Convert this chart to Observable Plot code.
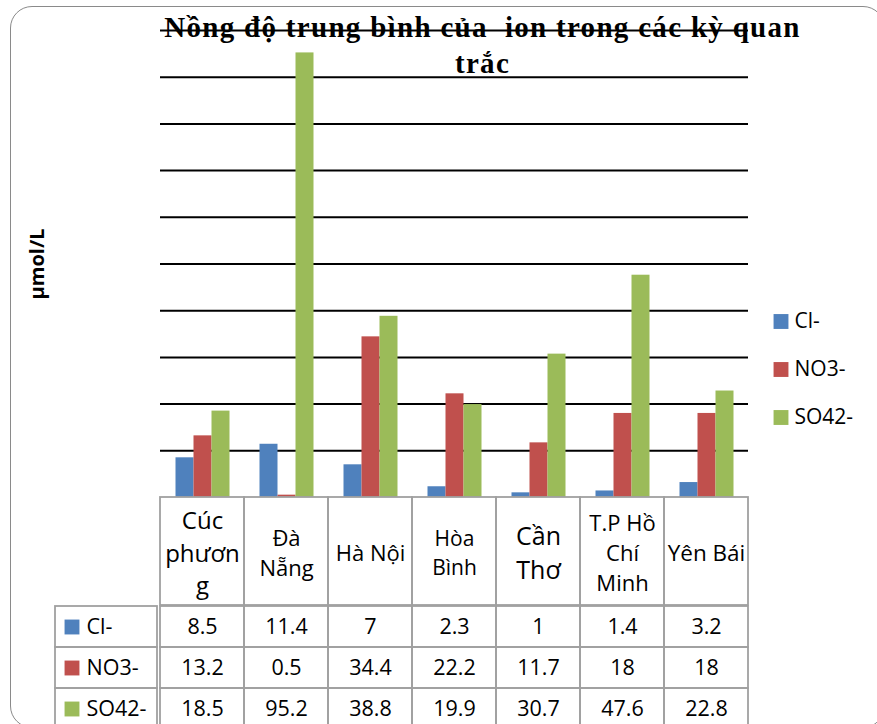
<!DOCTYPE html>
<html>
<head>
<meta charset="utf-8">
<script src="https://cdn.jsdelivr.net/npm/d3@7"></script>
<script src="https://cdn.jsdelivr.net/npm/@observablehq/plot@0.6"></script>
<style>
html, body { margin: 0; padding: 0; background: #fff; color: #000; }
#wrap { position: relative; width: 877px; height: 724px; overflow: hidden; font-family: "Open Sans", sans-serif; }
#wrap > * { position: absolute; }
#frame { left: 9.5px; top: 6px; width: 875px; height: 722px; border: 1.5px solid #8a8a8a; border-radius: 22px; box-sizing: border-box; }
</style>
</head>
<body>
<div id="wrap"><div id="frame"></div></div>
<script>
// ---- data ----
const categories = ["Cúc phương", "Đà Nẵng", "Hà Nội", "Hòa Bình", "Cần Thơ", "T.P Hồ Chí Minh", "Yên Bái"];
const categoryLines = [["Cúc", "phươn", "g"], ["Đà", "Nẵng"], ["Hà Nội"], ["Hòa", "Bình"], ["Cần", "Thơ"], ["T.P Hồ", "Chí", "Minh"], ["Yên Bái"]];
const series = ["Cl-", "NO3-", "SO42-"];
const clValues = [8.5, 11.4, 7, 2.3, 1, 1.4, 3.2];
const no3Values = [13.2, 0.5, 34.4, 22.2, 11.7, 18, 18];
const so4Values = [18.5, 95.2, 38.8, 19.9, 30.7, 47.6, 22.8];
const yTicks = [10, 20, 30, 40, 50, 60, 70, 80, 90, 100];
const titleLines = ["Nồng độ trung bình của  ion trong các kỳ quan", "trắc"];
const yLabel = "µmol/L";

// ---- styles ----
const colors = ["#4F81BD", "#C0504D", "#9BBB59"];
const headerFontSize = {"Cúc phương": 24, "Đà Nẵng": 22, "Hà Nội": 22, "Hòa Bình": 21, "Cần Thơ": 25, "T.P Hồ Chí Minh": 22, "Yên Bái": 22.5};
const FONT = "Open Sans";
const BORDER = "#a0a0a0";

const seriesValues = [clValues, no3Values, so4Values];
const data = categories.flatMap((c, i) => series.map((s, j) => ({category: c, series: s, value: seriesValues[j][i]})));
const colorScale = {domain: series, range: colors};
const transparent = {background: "transparent", overflow: "visible"};
const wrap = document.getElementById("wrap");
function place(el, left, top) { el.style.left = left + "px"; el.style.top = top + "px"; wrap.appendChild(el); }

// ---- chart ----
const chart = Plot.plot({
  width: 877, height: 497,
  marginLeft: 157.5, marginRight: 127, marginTop: 30, marginBottom: 0,
  style: transparent,
  fx: {domain: categories, padding: 0, axis: null},
  x: {domain: series, paddingInner: 0, paddingOuter: 0.76, axis: null},
  y: {domain: [0, 100], axis: null},
  color: colorScale,
  marks: [
    Plot.ruleY(yTicks, {stroke: "black", strokeWidth: 2}),
    Plot.barY(data, {fx: "category", x: "series", y: "value", fill: "series"}),
    Plot.text([titleLines.join("\n")], {
      fx: () => categories[3], text: d => d, frameAnchor: "top", lineAnchor: "top",
      textAnchor: "middle", dx: 28, dy: -19, fontFamily: "Liberation Serif", fontWeight: "bold",
      fontSize: 29, lineHeight: 1.25, fill: "black"
    }),
    Plot.text([yLabel], {
      fx: () => categories[0], text: d => d, frameAnchor: "left", textAnchor: "middle",
      dx: -122.5, rotate: -90, fontFamily: FONT, fontWeight: "bold", fontSize: 20, fill: "black"
    })
  ]
});
// widen the title's letter spacing to match the reference's wide serif
d3.select(chart).selectAll("text")
  .filter(function() { return this.textContent.includes(titleLines[1]); })
  .style("letter-spacing", "1.3px");
place(chart, 0, 0);

// ---- legend ----
const legend = Plot.plot({
  width: 110, height: 145, margin: 0,
  style: transparent,
  y: {type: "band", domain: series, padding: 0, axis: null},
  color: colorScale,
  marks: [
    Plot.dot(series, {y: d => d, fill: d => d, symbol: "square", r: 8.4, frameAnchor: "left", dx: 22.5, stroke: null}),
    Plot.text(series, {y: d => d, text: d => d, frameAnchor: "left", textAnchor: "start", dx: 36, fontFamily: FONT, fontSize: 21, fill: "black"})
  ]
});
place(legend, 758, 296);

// ---- table header row ----
const header = Plot.plot({
  width: 877, height: 109,
  marginLeft: 157.5, marginRight: 127, marginTop: 1, marginBottom: 0,
  style: transparent,
  x: {type: "band", domain: categories, padding: 0, axis: null},
  marks: [
    Plot.cell(categories, {x: d => d, fill: "none", stroke: BORDER, strokeWidth: 1.8}),
    Plot.text(categories, {
      x: d => d, text: d => categoryLines[categories.indexOf(d)].join("\n"),
      fontSize: d => headerFontSize[d], lineHeight: 1.35, fontFamily: FONT, fill: "black"
    })
  ]
});
place(header, 0, 496);

// ---- table values ----
const table = Plot.plot({
  width: 877, height: 125.5,
  marginLeft: 157.5, marginRight: 127, marginTop: 1, marginBottom: 0,
  style: transparent,
  x: {type: "band", domain: categories, padding: 0, axis: null},
  y: {type: "band", domain: series, padding: 0, axis: null},
  marks: [
    Plot.cell(data, {x: "category", y: "series", fill: "none", stroke: BORDER, strokeWidth: 1.8}),
    Plot.text(data, {x: "category", y: "series", text: d => String(d.value), fontFamily: FONT, fontSize: 21.5, fill: "black"})
  ]
});
place(table, 0, 604);

// ---- table key column ----
const keys = Plot.plot({
  width: 104.5, height: 125.5,
  marginLeft: 1, marginRight: 1, marginTop: 1, marginBottom: 0,
  style: transparent,
  x: {type: "band", domain: ["key"], padding: 0, axis: null},
  y: {type: "band", domain: series, padding: 0, axis: null},
  color: colorScale,
  marks: [
    Plot.cell(series, {x: () => "key", y: d => d, fill: "none", stroke: BORDER, strokeWidth: 1.8}),
    Plot.dot(series, {y: d => d, fill: d => d, symbol: "square", r: 8.4, frameAnchor: "left", dx: 16.5, stroke: null}),
    Plot.text(series, {y: d => d, text: d => d, frameAnchor: "left", textAnchor: "start", dx: 31, fontFamily: FONT, fontSize: 21.5, fill: "black"})
  ]
});
place(keys, 54, 604);
</script>
</body>
</html>
